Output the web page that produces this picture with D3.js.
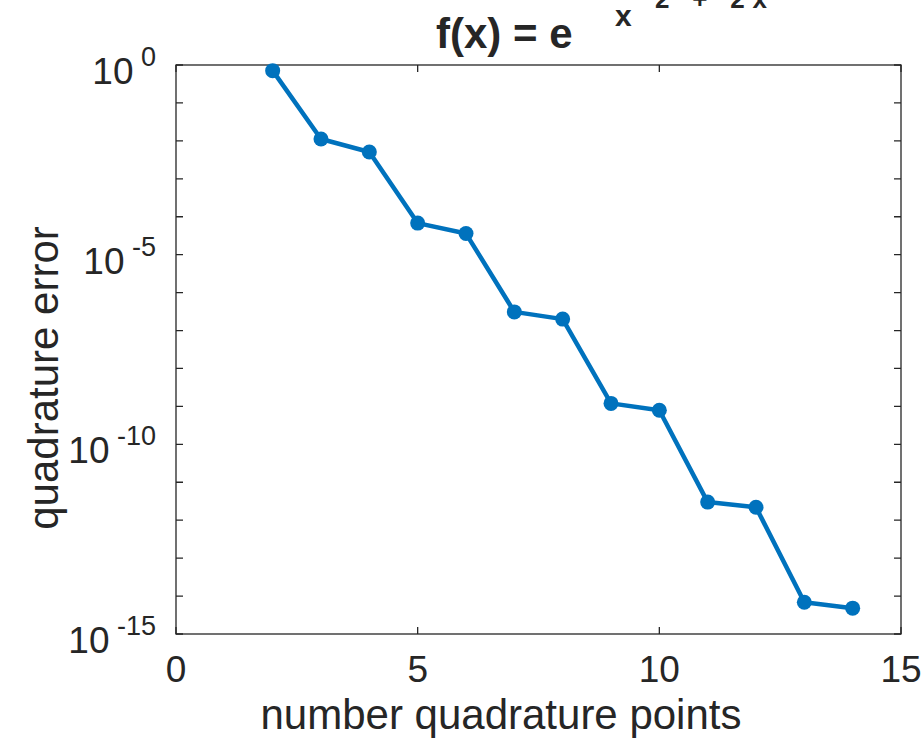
<!DOCTYPE html>
<html>
<head>
<meta charset="utf-8">
<script src="https://cdn.jsdelivr.net/npm/d3@7"></script>
<style>
  body { margin: 0; background: #fff; }
  text { font-family: "Liberation Sans", Arial, Helvetica, sans-serif; fill: #262626; }
</style>
</head>
<body>
<svg id="chart" width="922" height="744"></svg>
<script>
// DATA
// ========================================================================
var num_points = [2, 3, 4, 5, 6, 7, 8, 9, 10, 11, 12, 13, 14];
var quad_error = [7.1e-1, 1.12e-2, 5.1e-3, 6.8e-5, 3.6e-5, 3.1e-7, 2.0e-7,
                  1.2e-9, 7.9e-10, 3.0e-12, 2.2e-12, 6.9e-15, 4.8e-15];
var x_ticks = [0, 5, 10, 15];
var y_label_exps = [0, -5, -10, -15];
var y_tick_exps = d3.range(0, -16, -1);
// ========================================================================

var AXIS_COLOR = "#262626";
var LINE_COLOR = "#0072BD";

var box = {"left" : 176, "right" : 901, "top" : 65, "bottom" : 634};

var svg = d3.select("#chart");

var x = d3.scaleLinear().domain([0, 15]).range([box.left, box.right]);
var y = d3.scaleLog().domain([1e-15, 1]).range([box.bottom, box.top]);

// axes box
svg.append("rect")
    .attr("x", box.left).attr("y", box.top)
    .attr("width", box.right - box.left).attr("height", box.bottom - box.top)
    .style("fill", "none").style("stroke", AXIS_COLOR).style("stroke-width", 1.3);

// ticks (inward, mirrored on both sides)
var tick_len = 7;
svg.selectAll(".xtick").data(x_ticks).enter()
    .append("path").attr("class", "xtick")
    .attr("d", function(d) {
      var px = x(d);
      return "M" + px + "," + box.bottom + "v" + (-tick_len) +
             "M" + px + "," + box.top + "v" + tick_len;
    })
    .style("stroke", AXIS_COLOR).style("stroke-width", 1.3);

svg.selectAll(".ytick").data(y_tick_exps).enter()
    .append("path").attr("class", "ytick")
    .attr("d", function(d) {
      var py = y(Math.pow(10, d));
      return "M" + box.left + "," + py + "h" + tick_len +
             "M" + box.right + "," + py + "h" + (-tick_len);
    })
    .style("stroke", AXIS_COLOR).style("stroke-width", 1.3);

// tick labels
svg.selectAll(".xlab").data(x_ticks).enter()
    .append("text").attr("class", "xlab")
    .attr("x", function(d) { return x(d); })
    .attr("y", 682)
    .attr("text-anchor", "middle")
    .style("font-size", "37px")
    .text(function(d) { return d; });

var ylab = svg.selectAll(".ylab").data(y_label_exps).enter()
    .append("text").attr("class", "ylab")
    .attr("x", 156)
    .attr("y", function(d) { return y(Math.pow(10, d)) + 19; })
    .attr("text-anchor", "end")
    .style("font-size", "37px");
ylab.append("tspan").text("10");
ylab.append("tspan")
    .attr("dy", -18)
    .style("font-size", "27px")
    .text(function(d) { return "\u00a0" + (d === 0 ? "0" : "-" + Math.abs(d)); });

// axis labels
svg.append("text")
    .attr("x", 501).attr("y", 729)
    .attr("text-anchor", "middle")
    .style("font-size", "42px")
    .text("number quadrature points");

svg.append("text")
    .attr("transform", "translate(58,378) rotate(-90)")
    .attr("text-anchor", "middle")
    .style("font-size", "42px")
    .text("quadrature error");

// title (exponent partly clipped at the top, as in the original)
svg.append("text")
    .attr("x", 436).attr("y", 48)
    .style("font-size", "42px").style("font-weight", "bold")
    .text("f(x) = e");
svg.append("text")
    .attr("x", 615).attr("y", 26)
    .style("font-size", "30px").style("font-weight", "bold")
    .text("x");
svg.append("text")
    .attr("x", 655).attr("y", 8)
    .attr("textLength", 112)
    .style("font-size", "26px").style("font-weight", "bold")
    .text("2 + 2x");

// line and markers
var line = d3.line()
    .x(function(d, i) { return x(num_points[i]); })
    .y(function(d) { return y(d); });

svg.append("path")
    .datum(quad_error)
    .attr("d", line)
    .style("fill", "none").style("stroke", LINE_COLOR)
    .style("stroke-width", 4.5).style("stroke-linejoin", "round");

svg.selectAll(".marker").data(quad_error).enter()
    .append("circle").attr("class", "marker")
    .attr("cx", function(d, i) { return x(num_points[i]); })
    .attr("cy", function(d) { return y(d); })
    .attr("r", 7.5)
    .style("fill", LINE_COLOR);
</script>
</body>
</html>
